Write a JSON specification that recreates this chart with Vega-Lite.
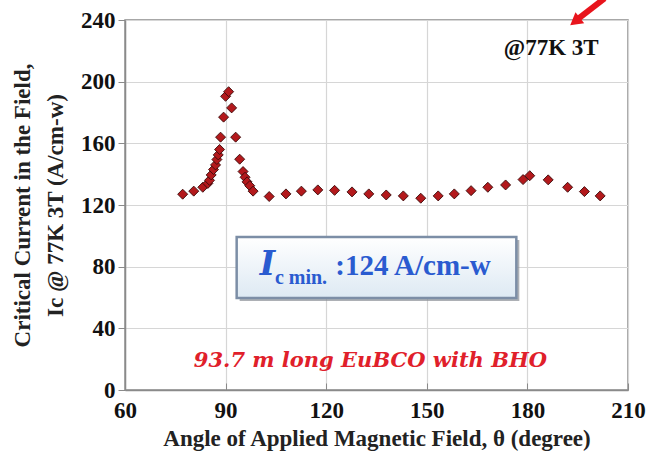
{
  "$schema": "https://vega.github.io/schema/vega-lite/v6.json",
  "width": 503,
  "height": 370,
  "autosize": "none",
  "padding": {"left": 125, "top": 20, "right": 20, "bottom": 71},
  "background": "white",
  "config": {
    "view": {"stroke": "#8a8a8a", "strokeWidth": 1.5},
    "axis": {
      "labelFont": "Liberation Serif", "labelFontWeight": "bold", "labelFontSize": 23, "labelColor": "#111",
      "titleFont": "Liberation Serif", "titleFontWeight": "bold", "titleColor": "#222",
      "gridColor": "#d6d6d6", "gridWidth": 1.2, "domainColor": "#8a8a8a", "tickColor": "#8a8a8a", "domainWidth": 1.5
    }
  },
  "datasets": {
    "pts": [
      {"x": 77.2, "y": 127}, {"x": 80.5, "y": 129}, {"x": 83.2, "y": 131.5}, {"x": 84.7, "y": 134},
      {"x": 85.2, "y": 136}, {"x": 85.7, "y": 139.5}, {"x": 86.4, "y": 143}, {"x": 87.0, "y": 146},
      {"x": 87.4, "y": 149.5}, {"x": 87.8, "y": 152.5}, {"x": 88.2, "y": 156}, {"x": 88.5, "y": 164},
      {"x": 89.4, "y": 177}, {"x": 90.0, "y": 190.5}, {"x": 90.9, "y": 193.5}, {"x": 91.8, "y": 183},
      {"x": 93.0, "y": 164}, {"x": 94.2, "y": 149.7}, {"x": 95.2, "y": 141.7}, {"x": 95.8, "y": 138},
      {"x": 96.4, "y": 135}, {"x": 97.2, "y": 132.5}, {"x": 98.2, "y": 129}, {"x": 103, "y": 125.5},
      {"x": 108, "y": 127.2}, {"x": 112.6, "y": 129}, {"x": 117.5, "y": 129.8}, {"x": 122.5, "y": 129.5},
      {"x": 127.7, "y": 128.5}, {"x": 132.7, "y": 127.2}, {"x": 137.9, "y": 126.5}, {"x": 143, "y": 125.9},
      {"x": 148.2, "y": 124.4}, {"x": 153.4, "y": 125.9}, {"x": 158.2, "y": 127.2}, {"x": 163.2, "y": 129.3},
      {"x": 168.2, "y": 131.5}, {"x": 173.5, "y": 133}, {"x": 178.7, "y": 136.5}, {"x": 180.7, "y": 139},
      {"x": 186.2, "y": 136.3}, {"x": 192, "y": 131.5}, {"x": 197, "y": 128.7}, {"x": 201.7, "y": 125.9}
    ],
    "box": [{"x": 93.3, "x2": 176.7, "y": 99.3, "y2": 59.7}],
    "arrow": [{"x": 203, "y": 254}, {"x": 195, "y": 240.5}],
    "tip": [{"x": 194.2, "y": 239}]
  },
  "layer": [
    {
      "data": {"name": "pts"},
      "mark": {"type": "point", "shape": "diamond", "filled": true, "size": 100, "color": "#b3191c", "stroke": "#3a0a0a", "strokeWidth": 0.9, "opacity": 1},
      "encoding": {
        "x": {"field": "x", "type": "quantitative",
          "scale": {"domain": [60, 210], "nice": false, "zero": false},
          "axis": {"values": [60, 90, 120, 150, 180, 210], "title": "Angle of Applied Magnetic Field, θ (degree)",
            "titleFontSize": 23, "titlePadding": 5, "tickSize": -7, "labelPadding": 16, "labelFlush": false}},
        "y": {"field": "y", "type": "quantitative",
          "scale": {"domain": [0, 240], "nice": false},
          "axis": {"values": [0, 40, 80, 120, 160, 200, 240], "title": ["Critical  Current in the Field,", "Ic @ 77K 3T (A/cm-w)"],
            "titleFontSize": 23, "titleLineHeight": 33, "titlePadding": 13, "tickSize": 7, "labelPadding": 3}}
      }
    },
    {
      "data": {"name": "box"},
      "mark": {"type": "rect", "fill": "#8a8f96", "xOffset": 3, "yOffset": 3, "x2Offset": 3, "y2Offset": 3, "opacity": 0.7},
      "encoding": {"x": {"field": "x", "type": "quantitative"}, "x2": {"field": "x2"}, "y": {"field": "y", "type": "quantitative"}, "y2": {"field": "y2"}}
    },
    {
      "data": {"name": "box"},
      "mark": {"type": "rect", "stroke": "#7c8ea6", "strokeWidth": 2.5,
        "fill": {"gradient": "linear", "x1": 0, "y1": 0, "x2": 0, "y2": 1, "stops": [{"offset": 0, "color": "#ffffff"}, {"offset": 1, "color": "#dde9f3"}]}},
      "encoding": {"x": {"field": "x", "type": "quantitative"}, "x2": {"field": "x2"}, "y": {"field": "y", "type": "quantitative"}, "y2": {"field": "y2"}}
    },
    {
      "data": {"values": [{"x": 100.2, "y": 74.6, "t": "I"}]},
      "mark": {"type": "text", "align": "left", "baseline": "alphabetic", "font": "DejaVu Serif", "fontStyle": "italic", "fontWeight": "bold", "fontSize": 33, "color": "#2a5bd0"},
      "encoding": {"x": {"field": "x", "type": "quantitative"}, "y": {"field": "y", "type": "quantitative"}, "text": {"field": "t"}}
    },
    {
      "data": {"values": [{"x": 104.7, "y": 68.8, "t": "c min."}]},
      "mark": {"type": "text", "align": "left", "baseline": "alphabetic", "font": "Liberation Serif", "fontWeight": "bold", "fontSize": 20, "color": "#2a5bd0"},
      "encoding": {"x": {"field": "x", "type": "quantitative"}, "y": {"field": "y", "type": "quantitative"}, "text": {"field": "t"}}
    },
    {
      "data": {"values": [{"x": 122.7, "y": 74.6, "t": ":124 A/cm-w"}]},
      "mark": {"type": "text", "align": "left", "baseline": "alphabetic", "font": "Liberation Serif", "fontWeight": "bold", "fontSize": 29, "color": "#2a5bd0"},
      "encoding": {"x": {"field": "x", "type": "quantitative"}, "y": {"field": "y", "type": "quantitative"}, "text": {"field": "t"}}
    },
    {
      "data": {"values": [{"x": 133.2, "y": 14.9, "t": "93.7 m long EuBCO with BHO"}]},
      "mark": {"type": "text", "align": "center", "baseline": "alphabetic", "font": "DejaVu Serif", "fontStyle": "italic", "fontWeight": "bold", "fontSize": 21, "color": "#e0202a"},
      "encoding": {"x": {"field": "x", "type": "quantitative"}, "y": {"field": "y", "type": "quantitative"}, "text": {"field": "t"}}
    },
    {
      "data": {"values": [{"x": 187.1, "y": 217.4, "t": "@77K 3T"}]},
      "mark": {"type": "text", "align": "center", "baseline": "alphabetic", "font": "Liberation Serif", "fontWeight": "bold", "fontSize": 23, "color": "#111"},
      "encoding": {"x": {"field": "x", "type": "quantitative"}, "y": {"field": "y", "type": "quantitative"}, "text": {"field": "t"}}
    },
    {
      "data": {"name": "arrow"},
      "mark": {"type": "line", "color": "#e8141c", "strokeWidth": 6, "clip": false},
      "encoding": {"x": {"field": "x", "type": "quantitative"}, "y": {"field": "y", "type": "quantitative"}}
    },
    {
      "data": {"name": "tip"},
      "mark": {"type": "point", "shape": "triangle-up", "filled": true, "color": "#e8141c", "size": 200, "angle": 232, "opacity": 1, "clip": false},
      "encoding": {"x": {"field": "x", "type": "quantitative"}, "y": {"field": "y", "type": "quantitative"}}
    }
  ]
}
